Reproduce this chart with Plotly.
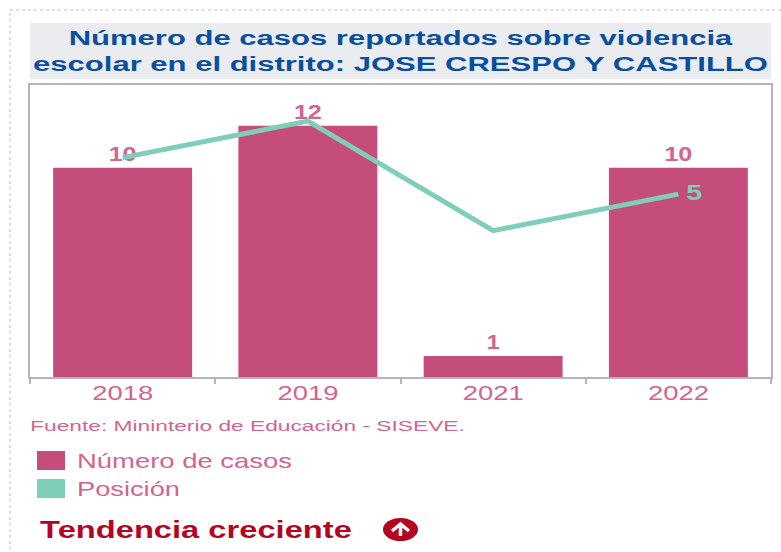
import json
import plotly.graph_objects as go

years = ["2018", "2019", "2021", "2022"]
casos = [10, 12, 1, 10]
posicion = [4, 3, 6, 5]
posicion_labels = ["", "", "", "5"]

title_lines = ["Número de casos reportados sobre violencia",
               "escolar en el distrito: JOSE CRESPO Y CASTILLO"]
source = "Fuente: Mininterio de Educación - SISEVE."
legend_names = ["Número de casos", "Posición"]
trend = "Tendencia creciente"

W, H = 781, 552
PINK, TEAL = "#c44d7c", "#7fceb9"
TXT = "#d2648f"
RED = "#b5041f"
GREY = "#b5b5b5"
FONT = "Liberation Sans"

def px(x):
    return x / W

def py(y):
    return 1 - y / H

fig = go.Figure()
fig.add_bar(x=years, y=casos, name=legend_names[0], width=0.75,
            marker=dict(color=PINK, line_width=0),
            text=casos, textposition="outside", cliponaxis=False,
            textfont=dict(family=FONT, size=20, color=TXT, weight="bold"))
fig.add_scatter(x=years, y=posicion, name=legend_names[1], yaxis="y2",
                mode="lines+text", line=dict(color=TEAL, width=5),
                text=posicion_labels, texttemplate="\u00a0%{text}",
                textposition="middle right", cliponaxis=False,
                textfont=dict(family=FONT, size=22, color=TEAL, weight="bold"))

shapes = [
    dict(type="rect", x0=px(10), x1=px(800), y0=py(10), y1=py(570), xref="paper", yref="paper",
         line=dict(color="#c0c0c0", width=1, dash="dot"), layer="below"),
    dict(type="rect", x0=px(30), x1=px(771), y0=py(23), y1=py(79), xref="paper", yref="paper",
         fillcolor="#eaecf0", line_width=0, layer="below"),
    dict(type="rect", x0=px(37), x1=px(65), y0=py(451), y1=py(470), xref="paper", yref="paper",
         fillcolor=PINK, line_width=0),
    dict(type="rect", x0=px(37), x1=px(65), y0=py(479), y1=py(498), xref="paper", yref="paper",
         fillcolor=TEAL, line_width=0),
    dict(type="circle", x0=px(383), x1=px(418), y0=py(518), y1=py(541), xref="paper", yref="paper",
         fillcolor=RED, line_width=0),
    dict(type="path", xref="paper", yref="paper", line=dict(color="white", width=3.5),
         path=f"M {px(400.5)} {py(536)} L {px(400.5)} {py(525)} M {px(392)} {py(531)} L {px(400.5)} {py(524)} L {px(409)} {py(531)}"),
]

def note(text, x, y, size, color, weight="normal"):
    return dict(text=text, x=px(x), y=py(y), xref="paper", yref="paper", showarrow=False,
                xanchor="left", yanchor="middle",
                font=dict(family=FONT, size=size, color=color, weight=weight))

annotations = [
    note(source, 28, 425, 15, TXT),
    note(legend_names[0], 75, 461, 20, TXT),
    note(legend_names[1], 75, 489, 20, TXT),
    note(trend, 38, 530, 23, RED, "bold"),
]

fig.update_layout(
    width=W, height=H, margin=dict(l=0, r=0, t=0, b=0, pad=0, autoexpand=False),
    paper_bgcolor="white", plot_bgcolor="white", showlegend=False,
    bargap=0.25,
    title=dict(text="<br>".join(title_lines), x=400.5 / W, xanchor="center",
               y=py(45.5), yanchor="middle",
               font=dict(family=FONT, size=20, color="#0a4f9e", weight="bold")),
    xaxis=dict(domain=[px(30), px(771)], type="category", categoryorder="array", categoryarray=years,
               showline=True, mirror=True, linecolor=GREY, linewidth=2,
               ticks="outside", tickson="boundaries", ticklen=5, tickcolor=GREY, tickwidth=2,
               ticklabelstandoff=-3,
               tickfont=dict(family=FONT, size=20, color=TXT), showgrid=False, zeroline=False),
    yaxis=dict(domain=[py(377), py(85)], range=[0, 13.95], showline=True, mirror=True,
               linecolor=GREY, linewidth=2, showticklabels=False, ticks="",
               showgrid=False, zeroline=False),
    yaxis2=dict(domain=[py(377), py(85)], overlaying="y", side="right", range=[10.01, 2.01],
                showticklabels=False, ticks="", showgrid=False, zeroline=False, showline=False),
    shapes=shapes, annotations=annotations,
)

# The reference is horizontally stretched: widen each real text element to its measured width.
widths = {"".join(title_lines): [735, "c"], source: [435, "l"], legend_names[0]: [215, "l"],
          legend_names[1]: [103, "l"], trend: [312, "l"],
          "2018": [61, "c"], "2019": [61, "c"], "2021": [61, "c"], "2022": [61, "c"],
          "10": [28, "c"], "12": [28, "c"], "1": [13, "c"], "\u00a05": [24, "l"]}
post = """
document.body.style.margin='0';document.body.style.overflow='hidden';
var widths = %s;
document.querySelectorAll('.main-svg text').forEach(function (t) {
  var w = widths[t.textContent];
  if (!w) return;
  var b = t.getBBox();
  if (!b.width) return;
  var s = w[0] / b.width, o = w[1] === 'l' ? b.x : b.x + b.width / 2;
  var prev = t.getAttribute('transform') || '';
  t.setAttribute('transform', prev + ' translate(' + o + ' 0) scale(' + s + ' 1) translate(' + (-o) + ' 0)');
});
""" % json.dumps(widths)

fig.write_html("out.html", post_script=post, config={"displayModeBar": False})
